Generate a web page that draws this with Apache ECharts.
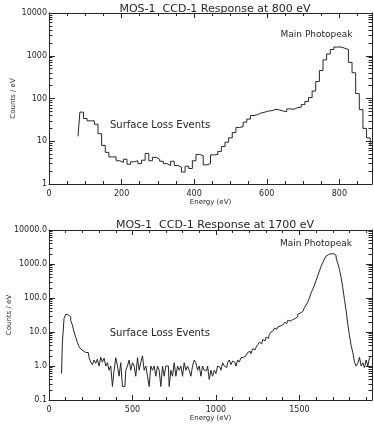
<!DOCTYPE html>
<html lang="en">
<head>
	<meta charset="UTF-8">
	<title>MOS-1 CCD-1 Response</title>
	<style>
		html, body { margin: 0; padding: 0; background: #fff; }
	</style>
</head>
<body>
<div id="chart" style="width:374px;height:425px;"></div>
<script src="https://cdn.jsdelivr.net/npm/echarts@6/dist/echarts.min.js"></script>
<script>
// 800 eV spectrum: bin centres from 80 eV, every 10 eV
var lowStart = 80;
var lowStep = 10;
var lowCounts = [
	13, 48, 34, 30, 30, 25, 15, 8, 5.5, 4.3,        // 80-170
	4.3, 3.5, 3.2, 3.8, 2.9, 3.3, 3.5, 3.0, 3.6, 5.2, // 180-270
	3.5, 4.2, 3.8, 3.4, 3.0, 2.7, 3.4, 2.7, 2.5, 1.9, // 280-370
	2.6, 2.3, 3.5, 4.9, 4.6, 2.8, 3.0, 4.8, 4.9, 5.8, // 380-470
	7.5, 9.5, 12, 16, 21, 22, 28, 33, 40, 42,         // 480-570
	46, 48, 51, 52, 56, 54, 51, 49, 57, 56,           // 580-670
	61, 63, 72, 85, 105, 150, 250, 450, 800, 1100,    // 680-770
	1400, 1600, 1600, 1500, 1400, 700, 400, 130, 55, 20, // 780-870
	12, 8                                              // 880-890
];

// 1700 eV spectrum: bin centres from 75 eV, every 10 eV
var highStart = 75;
var highStep = 10;
var highCounts = [
	0.6, 4.7, 25, 33, 32, 28, 22, 16, 10, 7,            // 75-165
	5, 3.7, 3.2, 2.8, 2.5, 2.3, 2.5, 1.8, 1.3, 1.1,     // 175-265
	1.5, 1.2, 1.6, 1.0, 1.8, 1.3, 1.7, 1.0, 1.25, 0.75, // 275-365
	1.0, 0.25, 0.75, 1.75, 1.0, 0.5, 1.25, 0.25, 0.25, 0.75, // 375-465
	1.0, 1.5, 0.75, 1.25, 1.0, 0.5, 1.75, 0.75, 1.25, 2.0,   // 475-565
	0.75, 1.0, 0.5, 0.25, 1.0, 0.75, 1.0, 0.5, 1.0, 0.75,    // 575-665
	0.25, 1.0, 0.5, 1.0, 1.0, 0.25, 0.75, 0.5, 1.25, 0.5,    // 675-765
	1.0, 0.75, 1.0, 0.5, 1.25, 0.75, 1.0, 0.75, 0.5, 1.0,    // 775-865
	1.5, 1.25, 0.75, 1.0, 0.5, 1.0, 0.75, 0.75, 1.0, 0.4,    // 875-965
	0.75, 0.5, 0.75, 0.6, 1.0, 0.9, 0.75, 1.25, 1.0, 0.9,    // 975-1065
	1.25, 1.5, 1.1, 1.4, 1.25, 1.0, 1.5, 1.3, 1.75, 1.8,     // 1075-1165
	2.0, 1.8, 2.5, 2.7, 2.3, 3.2, 3.0, 3.5, 4.2, 5.0,        // 1175-1265
	4.5, 6.0, 5.5, 7.0, 6.5, 8.5, 10, 11, 13, 12,            // 1275-1365
	14, 15, 16, 17.5, 19, 18, 22, 21, 23, 26,                // 1375-1465
	25, 28, 33, 36, 40, 45, 52, 62, 75, 100,                 // 1475-1565
	140, 180, 240, 330, 450, 620, 850, 1100, 1400, 1700,     // 1575-1665
	1900, 2000, 2050, 2000, 1800, 1500, 1050, 700, 400, 200, // 1675-1765
	90, 42, 17, 8, 4, 2.5, 1.3, 1.0, 1.2, 1.8,               // 1775-1865
	1.0, 1.25, 0.9, 1.5, 1.0, 1.75                           // 1875-1925
];

var lowDecades = [1, 10, 100, 1000, 10000];
var highDecades = [0.1, 1, 10, 100, 1000, 10000];

function pairs(start, step, counts) {
	return counts.map(function (c, i) { return [start + i * step, c]; });
}
function minors(decades) {
	var out = [];
	for (var d = 0; d < decades.length - 1; d++) {
		for (var m = 2; m <= 9; m++) out.push(+(decades[d] * m).toPrecision(3));
	}
	return out;
}

var ink = '#262626';
var fontFam = 'DejaVu Sans';

function xAxes(grid, max, interval, split) {
	var base = {
		type: 'value', gridIndex: grid, min: 0, max: max, interval: interval,
		axisLine: { show: true, onZero: false, lineStyle: { color: ink, width: 1 } },
		axisTick: { inside: true, length: 5, lineStyle: { color: ink } },
		minorTick: { show: true, splitNumber: split, length: 3, lineStyle: { color: ink } },
		splitLine: { show: false }
	};
	var bottom = Object.assign({}, base, {
		position: 'bottom',
		axisLabel: { color: ink, fontSize: 8, fontFamily: fontFam, margin: 6, showMaxLabel: false,
			formatter: function (v) { return String(v); } },
		name: 'Energy (eV)', nameLocation: 'middle', nameGap: 15, nameMoveOverlap: false,
		nameTextStyle: { color: ink, fontSize: 7, fontFamily: fontFam }
	});
	var top = Object.assign({}, base, { position: 'top', axisLabel: { show: false } });
	return [bottom, top];
}

function yAxes(grid, decades, fmt, gap) {
	var lo = decades[0], hi = decades[decades.length - 1];
	var base = {
		type: 'log', logBase: 10, gridIndex: grid, min: lo, max: hi,
		splitLine: { show: false }
	};
	var leftMajor = Object.assign({}, base, {
		position: 'left',
		axisLine: { show: true, lineStyle: { color: ink } },
		axisTick: { inside: true, length: 6, customValues: decades, lineStyle: { color: ink } },
		axisLabel: { color: ink, fontSize: 8, fontFamily: fontFam, margin: 2, customValues: decades, formatter: fmt },
		name: 'Counts / eV', nameLocation: 'middle', nameGap: gap, nameMoveOverlap: false,
		nameTextStyle: { color: ink, fontSize: 7, fontFamily: fontFam }
	});
	var leftMinor = Object.assign({}, base, {
		position: 'left',
		axisLine: { show: false },
		axisTick: { inside: true, length: 3.5, customValues: minors(decades), lineStyle: { color: ink } },
		axisLabel: { show: false }
	});
	var rightMajor = Object.assign({}, base, {
		position: 'right',
		axisLine: { show: true, lineStyle: { color: ink } },
		axisTick: { inside: true, length: 6, customValues: decades, lineStyle: { color: ink } },
		axisLabel: { show: false }
	});
	var rightMinor = Object.assign({}, base, {
		position: 'right',
		axisLine: { show: false },
		axisTick: { inside: true, length: 3.5, customValues: minors(decades), lineStyle: { color: ink } },
		axisLabel: { show: false }
	});
	return [leftMajor, leftMinor, rightMajor, rightMinor];
}

function note(text, coord, size) {
	return {
		coord: coord, symbol: 'circle', symbolSize: 0,
		label: { show: true, position: 'right', distance: 0, formatter: text,
			color: ink, fontSize: size, fontFamily: fontFam }
	};
}

var myChart = echarts.init(document.getElementById('chart'), null, { renderer: 'canvas' });

var option = {
	backgroundColor: '#fff',
	animation: false,
	title: [
		{ text: 'MOS-1  CCD-1 Response at 800 eV', left: 210, top: -1, textAlign: 'center',
			textStyle: { color: ink, fontSize: 11, fontWeight: 'normal', fontFamily: fontFam } },
		{ text: 'MOS-1  CCD-1 Response at 1700 eV', left: 210, top: 215, textAlign: 'center',
			textStyle: { color: ink, fontSize: 11, fontWeight: 'normal', fontFamily: fontFam } }
	],
	grid: [
		{ left: 49, right: 2, top: 13, height: 171, outerBoundsMode: 'none', containLabel: false },
		{ left: 49, right: 2, top: 230, height: 170, outerBoundsMode: 'none', containLabel: false }
	],
	xAxis: xAxes(0, 890, 200, 4).concat(xAxes(1, 1935, 500, 5)),
	yAxis: yAxes(0, lowDecades, function (v) { return String(Math.round(v)); }, 32)
		.concat(yAxes(1, highDecades, function (v) { return v.toFixed(1); }, 36)),
	series: [
		{
			type: 'line', step: 'middle', xAxisIndex: 0, yAxisIndex: 0,
			data: pairs(lowStart, lowStep, lowCounts),
			showSymbol: false, lineStyle: { color: ink, width: 1 },
			markPoint: { silent: true, data: [
				note('Surface Loss Events', [168, 24], 10),
				note('Main Photopeak', [638, 3160], 9)
			] }
		},
		{
			type: 'line', step: 'middle', xAxisIndex: 2, yAxisIndex: 4,
			data: pairs(highStart, highStep, highCounts),
			showSymbol: false, lineStyle: { color: ink, width: 1 },
			markPoint: { silent: true, data: [
				note('Surface Loss Events', [364, 9.2], 10),
				note('Main Photopeak', [1384, 3980], 9)
			] }
		}
	]
};
myChart.setOption(option);
</script>
</body>
</html>
